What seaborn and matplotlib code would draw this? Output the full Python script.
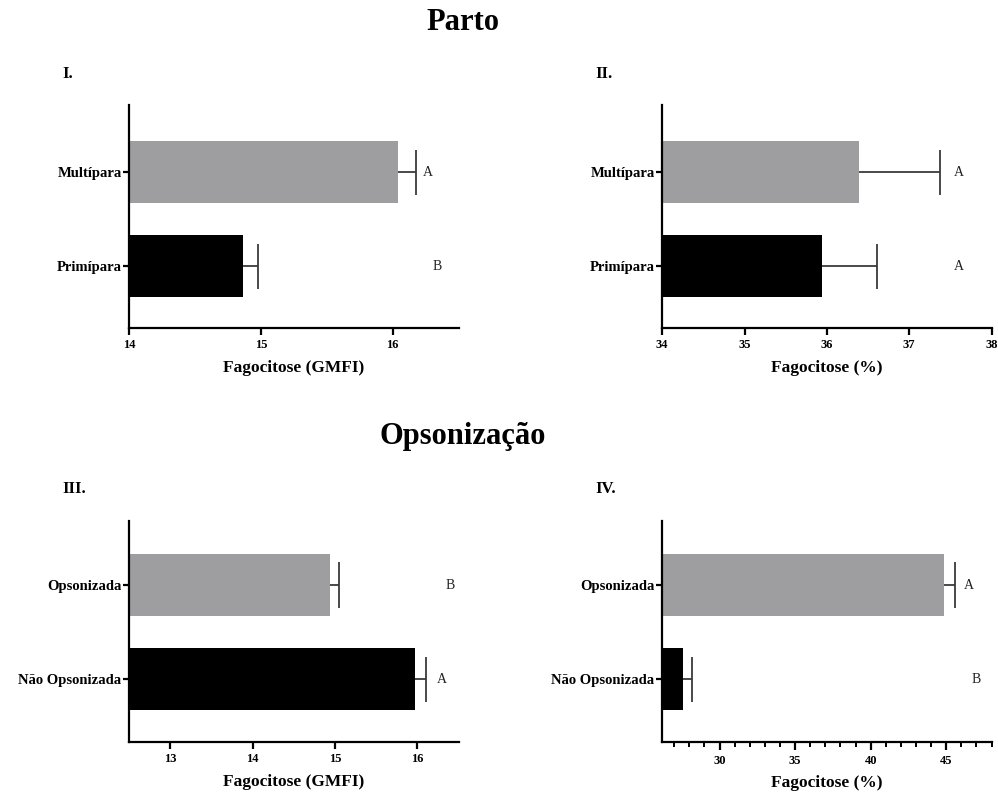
import matplotlib
matplotlib.use("Agg")
import matplotlib.pyplot as plt
from matplotlib.ticker import MultipleLocator
import seaborn as sns
import pandas as pd

sns.set_theme(style="white")
plt.rcParams["font.family"] = ["Liberation Serif", "DejaVu Serif"]
plt.rcParams["text.color"] = "black"
plt.rcParams["axes.labelcolor"] = "black"
plt.rcParams["xtick.color"] = "black"
plt.rcParams["ytick.color"] = "black"

# Group categories (top to bottom)
parto_groups = ["Multípara", "Primípara"]
opson_groups = ["Opsonizada", "Não Opsonizada"]

# Panel I: phagocytosis GMFI by parity
gmfi_parto = [16.04, 14.86]
gmfi_parto_err = [0.14, 0.12]
gmfi_parto_letters = ["A", "B"]

# Panel II: phagocytosis % by parity
pct_parto = [36.39, 35.94]
pct_parto_err = [0.98, 0.67]
pct_parto_letters = ["A", "A"]

# Panel III: phagocytosis GMFI by opsonization
gmfi_opson = [14.94, 15.97]
gmfi_opson_err = [0.11, 0.13]
gmfi_opson_letters = ["B", "A"]

# Panel IV: phagocytosis % by opsonization
pct_opson = [44.87, 27.55]
pct_opson_err = [0.70, 0.65]
pct_opson_letters = ["A", "B"]

bar_colors = ["#9e9da2", "#000000"]
err_color = "#3a3a3a"

fig = plt.figure(figsize=(9.98, 7.93), dpi=100)

axes_rect = {
    "I.": [0.1295, 0.586, 0.330, 0.281],
    "II.": [0.6635, 0.586, 0.330, 0.281],
    "III.": [0.1295, 0.064, 0.330, 0.279],
    "IV.": [0.6635, 0.064, 0.330, 0.279],
}


def draw_panel(key, groups, values, errs, letters, xlim, letter_x, xlabel,
               major=1, minor=None, ylim=(1.66, -0.71)):
    ax = fig.add_axes(axes_rect[key])
    df = pd.DataFrame({"grupo": groups, "valor": values})
    sns.barplot(data=df, x="valor", y="grupo", hue="grupo", order=groups,
                hue_order=groups, palette=bar_colors, legend=False,
                errorbar=None, width=0.66, orient="h", ax=ax,
                edgecolor="none", linewidth=0)
    # one-sided error bars (mean + SEM) with a cap at the outer end only
    cap_half = 0.24
    for p, v, e in zip(range(len(groups)), values, errs):
        ax.plot([v, v + e], [p, p], color=err_color, lw=1.3, zorder=3,
                solid_capstyle="butt")
        ax.plot([v + e, v + e], [p - cap_half, p + cap_half], color=err_color,
                lw=1.3, zorder=3, solid_capstyle="butt")
    for p, lt, lx in zip(range(len(groups)), letters, letter_x):
        ax.text(lx, p, lt, ha="center", va="center", fontsize=10,
                color="#222222")
    ax.set_xlim(*xlim)
    ax.set_ylim(*ylim)
    ax.xaxis.set_major_locator(MultipleLocator(major))
    if minor:
        ax.xaxis.set_minor_locator(MultipleLocator(minor))
        ax.tick_params(axis="x", which="minor", length=3.5, width=1.4,
                       color="black", bottom=True)
    ax.set_ylabel("")
    ax.set_xlabel(xlabel, fontsize=12.5, fontweight="bold", labelpad=6)
    for s in ["top", "right"]:
        ax.spines[s].set_visible(False)
    for s in ["left", "bottom"]:
        ax.spines[s].set_color("black")
        ax.spines[s].set_linewidth(1.6)
    ax.tick_params(axis="y", which="major", length=4.5, width=1.6,
                   color="black", left=True, labelsize=10.5, pad=1)
    ax.tick_params(axis="x", which="major", length=5, width=1.6,
                   color="black", bottom=True, labelsize=9, pad=3)
    for t in ax.get_yticklabels() + ax.get_xticklabels():
        t.set_fontweight("bold")
    fig.text(axes_rect[key][0] - 0.067, axes_rect[key][1] + axes_rect[key][3] + 0.040,
             key, fontsize=12, fontweight="bold", ha="left", va="center")
    return ax


draw_panel("I.", parto_groups, gmfi_parto, gmfi_parto_err, gmfi_parto_letters,
           (14, 16.5), [16.27, 16.34], "Fagocitose (GMFI)", major=1)
draw_panel("II.", parto_groups, pct_parto, pct_parto_err, pct_parto_letters,
           (34, 38), [37.6, 37.6], "Fagocitose (%)", major=1)
draw_panel("III.", opson_groups, gmfi_opson, gmfi_opson_err, gmfi_opson_letters,
           (12.5, 16.5), [16.4, 16.3], "Fagocitose (GMFI)", major=1,
           ylim=(1.67, -0.68))
ax4 = draw_panel("IV.", opson_groups, pct_opson, pct_opson_err, pct_opson_letters,
                 (26.2, 48), [46.5, 47.0], "Fagocitose (%)", major=5, minor=1,
                 ylim=(1.67, -0.68))
ax4.tick_params(axis="x", which="major", length=6)
ax4.set_xticks([30, 35, 40, 45])
for t in ax4.get_xticklabels():
    t.set_fontweight("bold")

fig.text(0.464, 0.972, "Parto", fontsize=22, fontweight="bold",
         ha="center", va="center")
fig.text(0.464, 0.449, "Opsonização", fontsize=22, fontweight="bold",
         ha="center", va="center")

fig.savefig("out.png", dpi=100, facecolor="white")
